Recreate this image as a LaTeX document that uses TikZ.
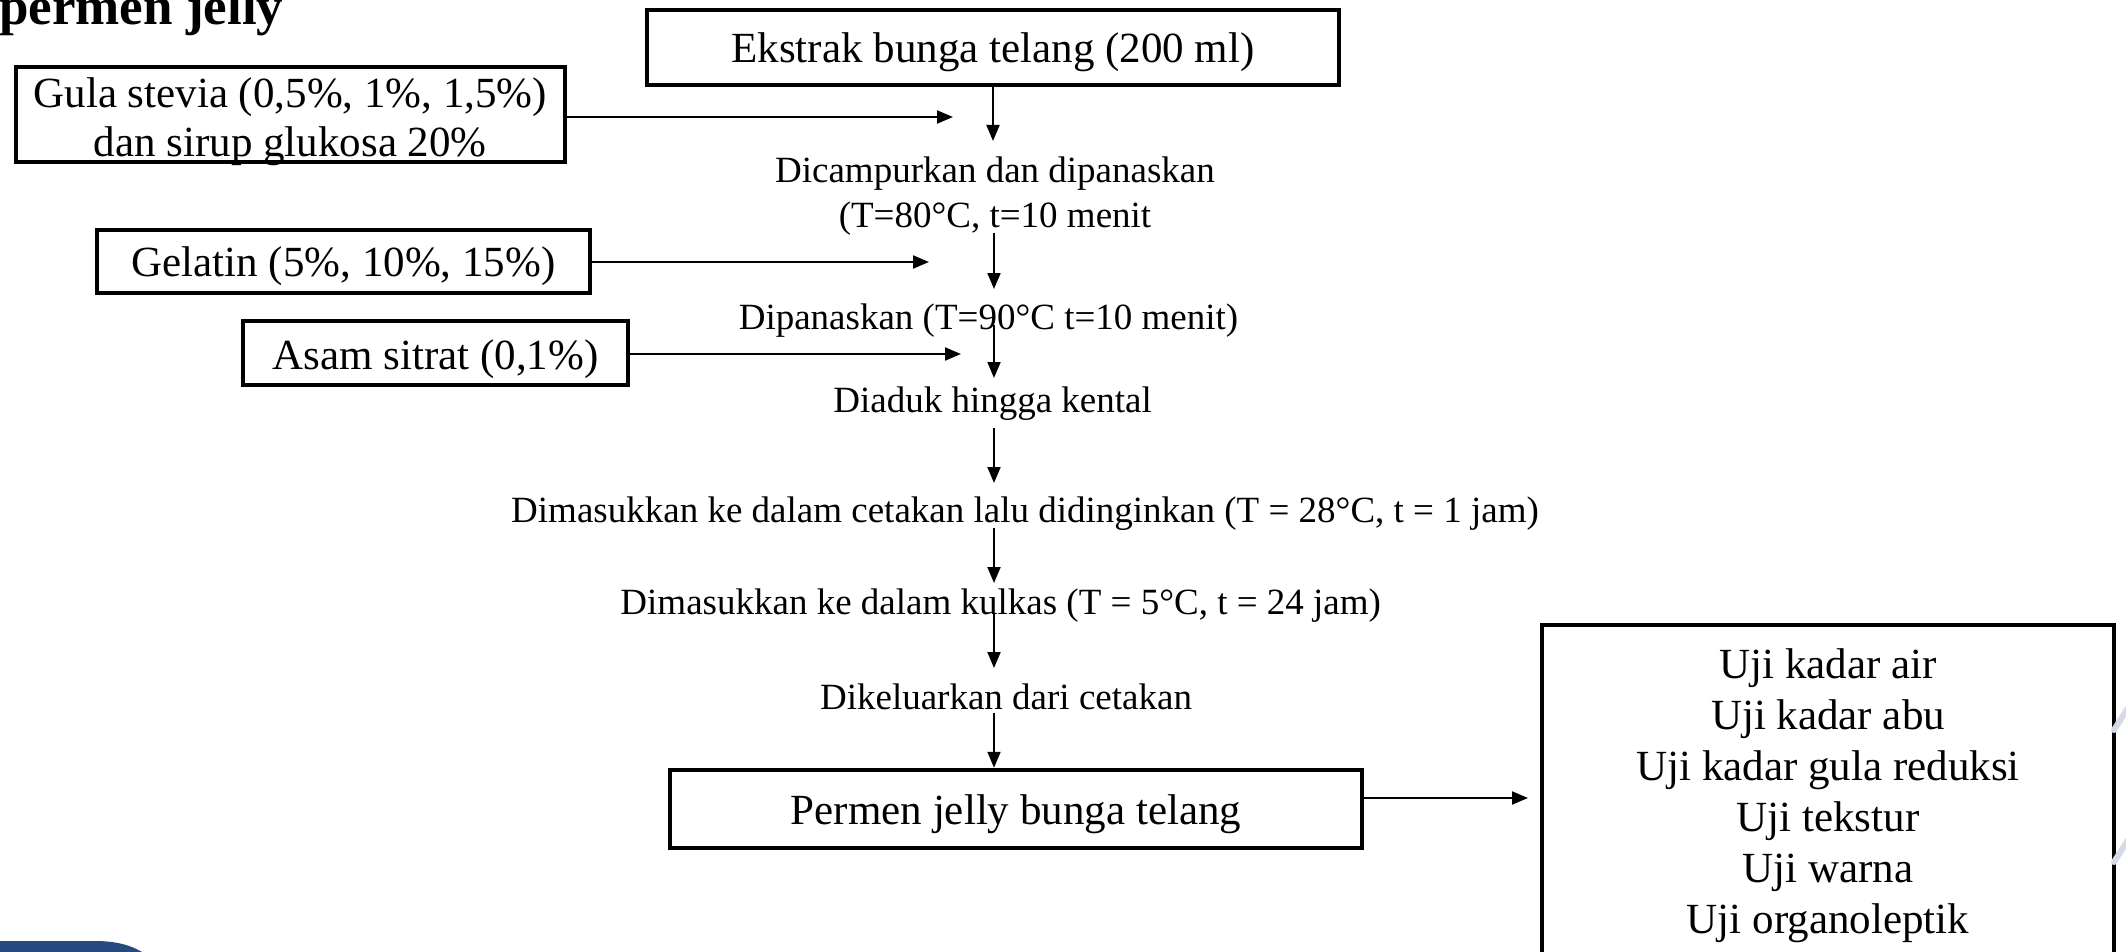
\documentclass[tikz,border=0pt]{standalone}
\usepackage{fontspec}
\setmainfont{Liberation Serif}
\usetikzlibrary{arrows.meta}
\definecolor{wmblue}{RGB}{37,74,128}
\definecolor{wmgray}{RGB}{214,218,230}
\begin{document}
\begin{tikzpicture}[x=1pt,y=-1pt,
  boxnode/.style={draw, line width=4.5pt, inner sep=0pt},
  boxtext/.style={inner sep=0pt, font=\fontsize{43}{49}\selectfont, align=center},
  steptext/.style={inner sep=0pt, font=\fontsize{37}{44.5}\selectfont, align=center},
  arr/.style={line width=2pt, -{Triangle[length=16pt,width=13pt]}},
  wm/.style={line width=6pt, wmgray, line cap=round}
]
\useasboundingbox (0,0) rectangle (2126,952);
\clip (0,0) rectangle (2126,952);

% title
\node[anchor=base west, inner sep=0pt, font=\bfseries\fontsize{53}{60}\selectfont] (title) at (-1,25) {permen jelly};

% boxes
\node[boxnode, minimum width=692pt, minimum height=75pt] (ekstrak) at (993,47.5) {};
\node[boxnode, minimum width=549pt, minimum height=95pt] (gula) at (290.3,114.5) {};
\node[boxnode, minimum width=493pt, minimum height=63pt] (gelatin) at (343.5,261.5) {};
\node[boxnode, minimum width=385pt, minimum height=64pt] (asam) at (435.5,353) {};
\node[boxnode, minimum width=692pt, minimum height=78pt] (permen) at (1016,809) {};
\node[boxnode, minimum width=572pt, minimum height=370pt] (uji) at (1828,810) {};

% box texts
\node[boxtext] (ekstraktxt) at (993,52.5) {Ekstrak bunga telang (200 ml)};
\node[boxtext] (gulatxt) at (290.3,122) {Gula stevia (0,5\%, 1\%, 1,5\%)\\dan sirup glukosa 20\%};
\node[boxtext] (gelatintxt) at (343.5,266) {Gelatin (5\%, 10\%, 15\%)};
\node[boxtext] (asamtxt) at (435.5,359) {Asam sitrat (0,1\%)};
\node[boxtext] (permentxt) at (1016,814) {Permen jelly bunga telang};
\node[boxtext, font=\fontsize{43}{51}\selectfont] (ujitxt) at (1828,795.5)
  {Uji kadar air\\Uji kadar abu\\Uji kadar gula reduksi\\Uji tekstur\\Uji warna\\Uji organoleptik};

% step texts
\node[steptext] (s1) at (995,196) {Dicampurkan dan dipanaskan\\(T=80°C, t=10 menit};
\node[steptext] (s2) at (988.5,321) {Dipanaskan (T=90°C t=10 menit)};
\node[steptext] (s3) at (992.6,404) {Diaduk hingga kental};
\node[steptext] (s4) at (1025,514) {Dimasukkan ke dalam cetakan lalu didinginkan (T = 28°C, t = 1 jam)};
\node[steptext] (s5) at (1000.7,606) {Dimasukkan ke dalam kulkas (T = 5°C, t = 24 jam)};
\node[steptext] (s6) at (1006,697) {Dikeluarkan dari cetakan};

% arrow end points
\coordinate (a1) at (993,141);
\coordinate (a2s) at (994,233);
\coordinate (a2e) at (994,289);
\coordinate (a3s) at (994,325);
\coordinate (a3e) at (994,378);
\coordinate (a4s) at (994,428);
\coordinate (a4e) at (994,483);
\coordinate (a5s) at (994,528);
\coordinate (a5e) at (994,583);
\coordinate (a6s) at (994,613);
\coordinate (a6e) at (994,668);
\coordinate (a7s) at (994,713);
\coordinate (g1) at (953,117);
\coordinate (ge) at (929,262);
\coordinate (as) at (961,354);
\coordinate (pu) at (1528,798);

% vertical arrows
\draw[arr] (ekstrak.south) -- (a1);
\draw[arr] (a2s) -- (a2e);
\draw[arr] (a3s) -- (a3e);
\draw[arr] (a4s) -- (a4e);
\draw[arr] (a5s) -- (a5e);
\draw[arr] (a6s) -- (a6e);
\draw[arr] (a7s) -- (a7s |- permen.north);

% horizontal arrows
\draw[arr] (gula.east |- g1) -- (g1);
\draw[arr] (gelatin.east |- ge) -- (ge);
\draw[arr] (asam.east |- as) -- (as);
\draw[arr] (permen.east |- pu) -- (pu);

% watermark fragments
\fill[wmblue] (0,952) -- (0,941) -- (95,941) .. controls (118,941) and (132,946) .. (142,952) -- cycle;
\draw[wm] (2114,730) -- (2128,708);
\draw[wm] (2114,862) -- (2128,840);
\end{tikzpicture}
\end{document}
